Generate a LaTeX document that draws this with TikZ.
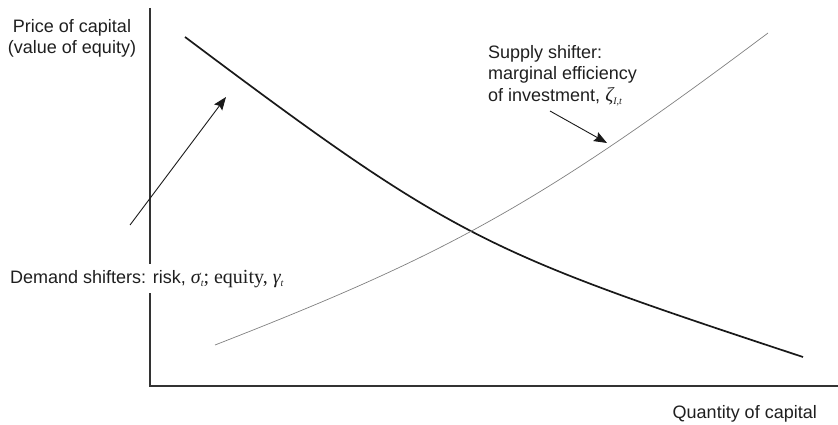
\documentclass[tikz,border=0pt]{standalone}
\usepackage{fontspec}
\setmainfont{Liberation Sans}
\newfontfamily\serif{Liberation Serif}
\usetikzlibrary{arrows.meta}
\newcommand{\gk}[2]{{\fontsize{20}{22}\selectfont\serif\itshape #1\raisebox{-3pt}{\fontsize{10}{11}\selectfont #2}}}
\begin{document}
\begin{tikzpicture}[x=1pt,y=-1pt,
  lbl/.style={inner sep=0pt, text=black!88, font=\fontsize{18}{21.5}\selectfont},
  axisline/.style={line width=1.3pt, draw=black!80},
  demandcurve/.style={line width=1.7pt, draw=black!90},
  supplycurve/.style={line width=0.7pt, draw=black!50},
  pointer/.style={line width=0.9pt, draw=black!90, -{Stealth[length=13pt,width=10pt,inset=2pt]}}]
\useasboundingbox (0,0) rectangle (838,425);
% axes
\coordinate (ytop) at (150,8);
\coordinate (orig) at (150,386);
\coordinate (xend) at (838,386);
\draw[axisline] (ytop) -- (orig) -- (xend);
% curves
\draw[demandcurve] (185,37) .. controls (455,239.5) and (483,251.4) .. (803,357);
\draw[supplycurve] (215,345) .. controls (445,255.3) and (538,205.5) .. (768,33);
% labels
\node[lbl, align=center, anchor=north] (ylab) at (72,19) {Price of capital\\(value of equity)};
\node[lbl, anchor=base east] (xlab) at (817,418) {Quantity of capital};
\node[lbl, anchor=base west, fill=white, inner ysep=6pt] (dem) at (10,283) {Demand shifters: risk, \gk{σ}{t}{\fontsize{20}{22}\selectfont\serif; equity, }\gk{γ}{t}};
\node[lbl, align=left, anchor=north west] (sup) at (488,45) {Supply shifter:\\marginal efficiency\\of investment, \gk{ζ}{I,t}};
% pointers
\coordinate (dstart) at (130,225);
\coordinate (dtip) at (226,97);
\coordinate (sstart) at (550,111);
\coordinate (stip) at (607,143);
\draw[pointer] (dstart) -- (dtip);
\draw[pointer] (sstart) -- (stip);
\end{tikzpicture}
\end{document}
